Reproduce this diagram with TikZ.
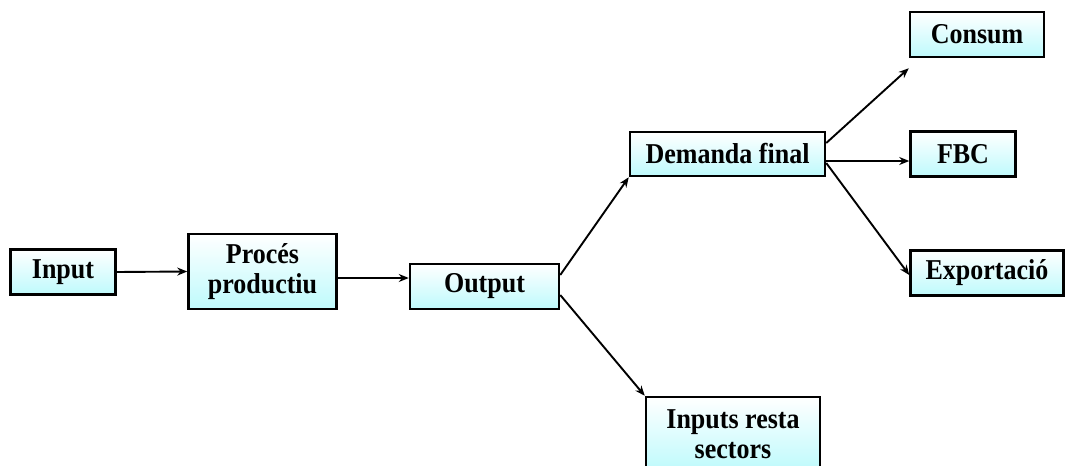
\documentclass[tikz,border=0pt]{standalone}
\usepackage{fontspec}
\setmainfont{Liberation Serif}
\usetikzlibrary{arrows.meta}
\definecolor{boxcyan}{RGB}{190,250,252}
\newcommand{\tl}[1]{\scalebox{1.04}[1.15]{#1}}
\begin{document}
\begin{tikzpicture}[x=1pt,y=-1pt,
  box/.style={draw=black,line width=2.5pt,top color=white,bottom color=boxcyan,
    inner sep=0pt,align=center,font=\fontsize{25}{30}\selectfont\bfseries},
  arr/.style={line width=1.9pt,-{Stealth[length=10pt,width=8pt]}}]
\clip (0,0) rectangle (1066,466);
\useasboundingbox (0,0) rectangle (1066,466);
\fill[white] (0,0) rectangle (1066,466);
\node[box,minimum width=105pt,minimum height=45pt] (inp) at (63,272) {\tl{Input}};
\node[box,minimum width=148pt,minimum height=75pt] (proc) at (262.5,271.5) {\tl{Procés}\\\tl{productiu}};
\node[box,minimum width=149pt,minimum height=45pt] (out) at (484.5,286.5) {\tl{Output}};
\node[box,minimum width=195pt,minimum height=44pt] (dem) at (727.5,154) {\tl{Demanda final}};
\node[box,minimum width=134pt,minimum height=45pt] (cons) at (977,34.5) {\tl{Consum}};
\node[box,minimum width=105pt,minimum height=45pt] (fbc) at (963,154) {\tl{FBC}};
\node[box,minimum width=153pt,minimum height=45pt] (exp) at (987,273) {\tl{Exportació}};
\node[box,minimum width=174pt,minimum height=74pt] (rest) at (733,434) {\tl{Inputs resta}\\\tl{sectors}};
\draw[arr] (inp.east) -- (proc.west);
\draw[arr] ([yshift=-6.5pt]proc.east) -- ([yshift=8.5pt]out.west);
\draw[arr] ([yshift=11.5pt]out.east) -- (dem.south west);
\draw[arr] ([yshift=-8.5pt]out.east) -- (rest.north west);
\draw[arr] ([yshift=11pt]dem.east) -- ([yshift=-10pt]cons.south west);
\draw[arr] ([yshift=-7pt]dem.east) -- ([yshift=-7pt]fbc.west);
\draw[arr] ([yshift=-9pt]dem.east) -- ([yshift=-2pt]exp.west);
\end{tikzpicture}
\end{document}
